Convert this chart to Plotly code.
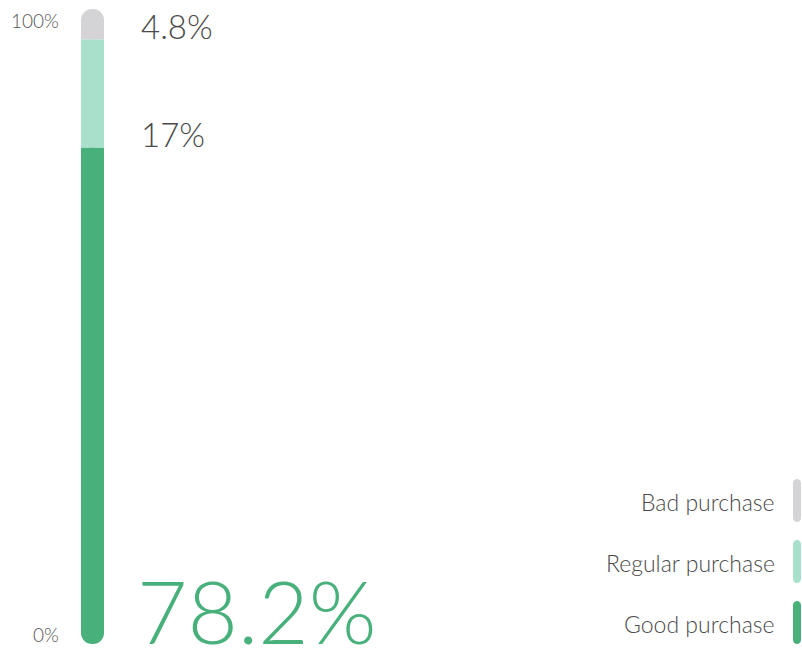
import plotly.graph_objects as go

# Share of purchases by rating, bottom to top of the stacked column
categories = ["Good purchase", "Regular purchase", "Bad purchase"]
values = [78.2, 17, 4.8]
colors = ["#48b07a", "#a9e0cc", "#d4d4d6"]
axis_labels = ["0%", "100%"]

FONT = "Lato"
TEXT_GRAY = "#4a4a4a"

W, H = 802, 648
M_T, M_B = 9, 4
plot_h = H - M_T - M_B
BAR_X, BAR_W = 92.5, 23

bases = []
acc = 0
for v in values:
    bases.append(acc)
    acc += v

fig = go.Figure()


def seg(base, length, color, radius, name):
    fig.add_trace(go.Bar(
        x=[BAR_X], y=[length], base=[base], width=[BAR_W],
        marker=dict(color=color, line=dict(width=0), cornerradius=radius),
        name=name, hoverinfo="skip", showlegend=False,
    ))


# Column ends are rounded; the inner joins between segments stay square.
g, r, b = values
seg(bases[0], g, colors[0], "50%", categories[0])
seg(bases[0] + g / 2, g / 2, colors[0], 0, categories[0])
seg(bases[2], b, colors[2], "50%", categories[2])
seg(bases[2], b / 2, colors[2], 0, categories[2])
seg(bases[1], r, colors[1], 0, categories[1])

annotations = []

# Value labels, baseline on each segment's lower edge
label_sizes = [87, 33, 33]
label_x = [135, 139, 139]
label_colors = [colors[0], TEXT_GRAY, TEXT_GRAY]
for v, bs, s, lx, c in zip(values, bases, label_sizes, label_x, label_colors):
    annotations.append(dict(
        x=lx / W, xref="paper", xanchor="left",
        y=bs, yref="y", yanchor="bottom", yshift=-0.245 * s,
        text=f"{v:g}%", showarrow=False,
        font=dict(family=FONT, size=s, color=c, weight=300),
    ))

# Scale end labels
annotations.append(dict(
    x=61 / W, xref="paper", xanchor="right", y=0, yref="y", yanchor="bottom",
    yshift=-4, text=axis_labels[0], showarrow=False,
    font=dict(family=FONT, size=19, color="#555555", weight=300),
))
annotations.append(dict(
    x=61 / W, xref="paper", xanchor="right", y=100, yref="y", yanchor="top",
    yshift=2, text=axis_labels[1], showarrow=False,
    font=dict(family=FONT, size=19, color="#555555", weight=300),
))

# Legend: right-aligned names with small rounded swatches
shapes = []
legend_centers = [622.5, 561.5, 500.5]
half_h, half_w, k = 21.5, 4.0, 2.2
inner = half_h - half_w
pill = (
    f"M {-half_w},{inner} C {-half_w},{inner + k} {-k},{half_h} 0,{half_h} "
    f"C {k},{half_h} {half_w},{inner + k} {half_w},{inner} "
    f"L {half_w},{-inner} C {half_w},{-inner - k} {k},{-half_h} 0,{-half_h} "
    f"C {-k},{-half_h} {-half_w},{-inner - k} {-half_w},{-inner} Z"
)
for name, col, cy in zip(categories, colors, legend_centers):
    py = (H - M_B - cy) / plot_h
    shapes.append(dict(
        type="path", xref="paper", yref="paper",
        xsizemode="pixel", ysizemode="pixel",
        xanchor=797 / W, yanchor=py, path=pill,
        fillcolor=col, line=dict(width=0),
    ))
    annotations.append(dict(
        x=777 / W, xref="paper", xanchor="right",
        y=py, yref="paper", yanchor="middle", yshift=-1,
        text=name, showarrow=False,
        font=dict(family=FONT, size=23, color=TEXT_GRAY, weight=300),
    ))

fig.update_layout(
    width=W, height=H,
    margin=dict(l=0, r=0, t=M_T, b=M_B),
    barmode="overlay",
    paper_bgcolor="white", plot_bgcolor="white",
    xaxis=dict(range=[0, W], visible=False, fixedrange=True),
    yaxis=dict(range=[0, 100], visible=False, fixedrange=True),
    annotations=annotations, shapes=shapes,
    showlegend=False,
)

fig.write_html("out.html", config={"displayModeBar": False})
